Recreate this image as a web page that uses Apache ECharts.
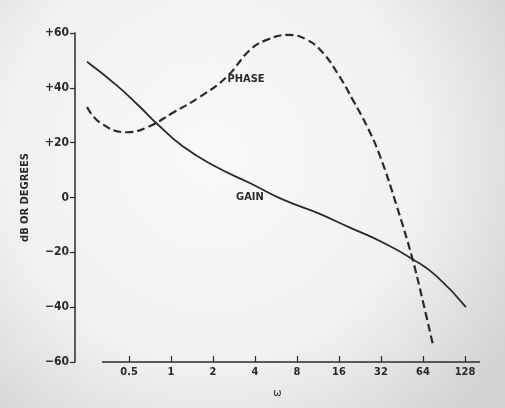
<!DOCTYPE html>
<html><head><meta charset="utf-8">
<script src="https://cdn.jsdelivr.net/npm/echarts@6/dist/echarts.min.js"></script>
<style>html,body{margin:0;padding:0;background:#f2f2f2}#c{width:505px;height:408px}</style>
</head><body><div id="c"></div>
<script>
// ---- data ----
const xTicks = [0.5, 1, 2, 4, 8, 16, 32, 64, 128];
const yTicks = [-60, -40, -20, 0, 20, 40, 60];
const gainW   = [0.25, 0.41, 0.6, 0.79, 1.22, 2.1, 3.7, 6.3, 11.2, 19, 33, 54, 80, 130];
const gainVal = [49.5, 40.8, 33.0, 27.0, 18.6, 11.2, 5.2, -0.7, -5.6, -10.9, -16.4, -22.5, -28.7, -40];
const phaseW   = [0.25, 0.31, 0.48, 0.67, 1.03, 1.61, 2.51, 3.68, 4.86, 6.9, 9.45, 12.3, 16.2, 20.1, 25.5, 31.6, 41.6, 53.4, 64, 75.6];
const phaseVal = [33, 27.3, 23.8, 25.5, 30.9, 36.7, 44, 53.8, 57.5, 59.3, 57.5, 52.7, 44, 35.6, 25.8, 14.9, -3.3, -21.8, -38, -54];
const seriesNames = ['GAIN', 'PHASE'];
const labelAt = {GAIN: [3.68, 0], PHASE: [3.45, 43]};
const xName = 'ω';
const yName = 'dB OR DEGREES';

const FONT = '"DejaVu Sans Condensed","DejaVu Sans",sans-serif';
const INK = '#2a2a2a';
const zip = (a, b) => a.map((v, i) => [v, b[i]]);
const textMark = name => ({
  symbol: 'circle', symbolSize: 1, silent: true,
  itemStyle: {color: 'rgba(0,0,0,0)'},
  label: {show: true, position: 'inside', formatter: name, fontFamily: FONT, fontWeight: 'bold', fontSize: 11, color: INK},
  data: [{coord: labelAt[name]}]
});

const chart = echarts.init(document.getElementById('c'));
chart.setOption({
  animation: false,
  backgroundColor: {
    type: 'radial', x: 0.42, y: 0.38, r: 0.85,
    colorStops: [{offset: 0, color: '#f9f9f9'}, {offset: 0.6, color: '#f1f1f1'}, {offset: 1, color: '#d4d4d4'}]
  },
  grid: {left: 75, right: 25, top: 33, bottom: 46},
  xAxis: {
    type: 'log', logBase: 2, min: 0.205, max: 164,
    name: xName, nameLocation: 'middle', nameGap: 26,
    nameTextStyle: {fontFamily: FONT, fontSize: 11, color: INK},
    axisLine: {show: false, onZero: false},
    axisTick: {show: true, inside: true, length: 6, customValues: xTicks, lineStyle: {color: INK, width: 1.2}},
    axisLabel: {customValues: xTicks, fontFamily: FONT, fontWeight: 'bold', fontSize: 11, color: INK, margin: 5,
      formatter: v => String(Math.round(v * 100) / 100)},
    splitLine: {show: false}
  },
  yAxis: {
    type: 'value', min: -60, max: 60, interval: 20,
    name: yName, nameLocation: 'middle', nameRotate: 90, nameGap: 44,
    nameTextStyle: {fontFamily: FONT, fontWeight: 'bold', fontSize: 11, color: INK},
    axisLine: {show: true, lineStyle: {color: INK, width: 1.5}},
    axisTick: {show: true, length: 5, lineStyle: {color: INK, width: 1.2}},
    axisLabel: {fontFamily: FONT, fontWeight: 'bold', fontSize: 12, color: INK, margin: 6,
      formatter: v => v > 0 ? '+' + v : (v < 0 ? '\u2212' + (-v) : '0')},
    splitLine: {show: false}
  },
  series: [
    {
      name: seriesNames[0], type: 'line', smooth: 0.5, showSymbol: false,
      data: zip(gainW, gainVal),
      lineStyle: {color: INK, width: 1.8},
      markPoint: textMark(seriesNames[0]),
      markLine: {symbol: 'none', silent: true, label: {show: false},
        lineStyle: {color: INK, width: 1.5, type: 'solid'},
        data: [[{coord: [0.32, -60]}, {coord: [164, -60]}]]}
    },
    {
      name: seriesNames[1], type: 'line', smooth: 0.45, showSymbol: false,
      data: zip(phaseW, phaseVal),
      lineStyle: {color: INK, width: 2.2, type: [8, 4]},
      markPoint: textMark(seriesNames[1])
    }
  ]
});
</script></body></html>
